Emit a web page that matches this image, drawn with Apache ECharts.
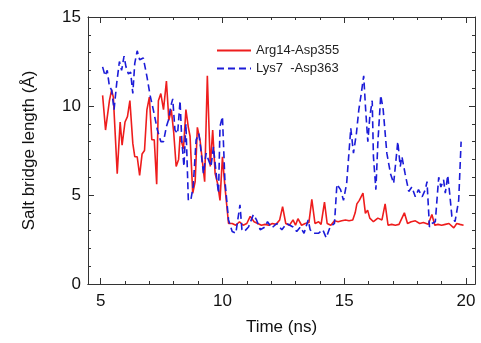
<!DOCTYPE html>
<html>
<head>
<meta charset="utf-8">
<script src="https://cdn.jsdelivr.net/npm/echarts@6/dist/echarts.min.js"></script>
<style>html,body{margin:0;padding:0;background:#fff}#c{width:481px;height:343px}</style>
</head>
<body>
<div id="c"></div>
<script>
var argTime = [5.08,5.2,5.36,5.45,5.52,5.68,5.8,5.88,6.0,6.1,6.2,6.32,6.4,6.5,6.6,6.7,6.8,6.9,7.0,7.1,7.2,7.3,7.37,7.47,7.58,7.7,7.8,7.9,8.0,8.1,8.2,8.26,8.4,8.5,8.6,8.67,8.78,8.88,8.97,9.08,9.2,9.27,9.38,9.5,9.6,9.7,9.8,9.9,10.0,10.1,10.25,10.4,10.55,10.7,10.85,11.0,11.14,11.3,11.45,11.6,11.75,11.9,12.05,12.2,12.35,12.47,12.6,12.75,12.9,13.0,13.1,13.25,13.4,13.55,13.67,13.8,13.95,14.05,14.19,14.3,14.45,14.6,14.75,14.9,15.05,15.2,15.35,15.45,15.52,15.62,15.77,15.87,15.96,16.05,16.2,16.38,16.55,16.68,16.8,16.95,17.1,17.25,17.47,17.6,17.75,17.92,18.1,18.25,18.45,18.6,18.72,18.85,19.0,19.15,19.3,19.5,19.62,19.75,19.9];
var argLen = [10.6,8.65,10.3,10.9,10.5,6.2,9.1,7.8,9.1,9.4,10.3,7.9,7.15,7.15,6.1,7.3,7.5,9.8,10.5,8.1,8.1,5.6,10.3,10.7,9.8,11.4,9.2,9.8,8.5,6.6,7.0,8.3,7.6,9.8,8.8,8.3,5.1,5.75,8.8,8.1,6.6,5.75,11.7,6.6,8.65,6.2,5.65,4.7,7.15,5.5,3.4,3.4,3.3,3.5,3.3,3.4,3.8,3.5,3.4,3.3,3.35,3.3,3.4,3.35,3.6,4.35,3.4,3.3,3.6,3.3,3.67,3.3,3.4,3.45,4.75,3.4,3.5,3.35,4.6,3.4,3.3,3.55,3.5,3.55,3.6,3.55,3.6,4.0,4.5,4.7,5.1,3.97,4.15,3.7,3.5,3.7,3.6,4.5,3.3,3.35,3.3,3.35,4.0,3.4,3.5,3.55,3.4,3.45,3.35,3.9,3.3,3.35,3.3,3.35,3.4,3.15,3.4,3.35,3.3];
var lysTime = [5.08,5.18,5.27,5.36,5.45,5.55,5.66,5.77,5.86,5.96,6.04,6.14,6.23,6.32,6.4,6.5,6.6,6.75,6.9,7.03,7.16,7.33,7.47,7.58,7.7,7.78,7.88,7.96,8.05,8.16,8.26,8.33,8.42,8.5,8.6,8.7,8.8,8.92,9.03,9.1,9.22,9.33,9.42,9.53,9.63,9.77,9.84,9.9,10.0,10.1,10.25,10.4,10.55,10.72,10.8,10.9,11.07,11.27,11.4,11.55,11.75,11.85,12.03,12.23,12.44,12.64,12.9,13.05,13.2,13.35,13.52,13.6,13.74,13.94,14.12,14.26,14.42,14.6,14.7,14.85,14.97,15.1,15.27,15.38,15.5,15.6,15.7,15.8,15.88,15.97,16.05,16.15,16.2,16.3,16.38,16.5,16.6,16.75,16.9,17.03,17.2,17.3,17.37,17.5,17.65,17.78,17.92,18.05,18.2,18.33,18.4,18.5,18.6,18.74,18.88,18.97,19.08,19.15,19.25,19.33,19.42,19.55,19.7,19.8];
var lysLen = [12.2,11.7,12.0,11.1,10.9,9.8,11.3,12.5,12.0,12.8,12.2,11.8,11.9,10.7,12.4,13.1,12.6,12.7,11.65,10.6,9.8,8.65,8.0,8.0,8.85,9.2,10.0,10.4,8.65,8.45,10.3,8.1,6.6,9.0,4.7,4.7,5.5,8.1,8.45,7.7,6.2,7.35,7.0,6.6,7.7,5.85,5.1,8.85,9.4,5.85,3.6,2.95,2.85,4.45,3.05,2.95,3.2,3.9,3.6,3.05,3.2,3.5,3.15,3.4,3.05,3.4,3.2,2.95,3.2,2.85,3.6,3.05,2.85,2.85,3.05,2.6,3.2,3.4,5.6,5.3,4.7,5.65,8.75,7.35,8.45,9.8,10.7,11.7,9.8,8.0,9.4,10.3,7.15,5.3,7.9,10.6,9.8,7.35,6.2,5.65,8.0,6.6,7.15,6.2,5.2,5.45,4.9,5.3,4.9,5.3,5.75,3.2,3.4,3.5,6.0,5.45,5.85,5.1,6.1,5.1,3.8,3.5,4.7,8.0];
var seriesNames = ['Arg14-Asp355','Lys7  -Asp363'];

function pairs(xs, ys){ return xs.map(function(x,i){return [x, ys[i]];}); }
var FONT = 'Liberation Sans';
var AX = '#333';
var chart = echarts.init(document.getElementById('c'));

function setRange(o, dim){
  if (dim === 'x') { o.min = 4.48; o.max = 20.37; o.splitNumber = 3; }
  else { o.min = 0; o.max = 15; o.interval = 5; }
  return o;
}
// Axis that carries labels and title (no ticks)
function labelAx(dim){
  var o = {
    type:'value', position: dim === 'x' ? 'bottom' : 'left',
    axisLine:{show:true, onZero:false, lineStyle:{color:AX, width:1}},
    axisTick:{show:false}, minorTick:{show:false},
    axisLabel:{show:true, color:'#111', fontSize:17, fontFamily:FONT, margin: dim === 'x' ? 9 : 7},
    splitLine:{show:false},
    name: dim === 'x' ? 'Time (ns)' : 'Salt bridge length (Å)',
    nameLocation:'middle', nameGap: dim === 'x' ? 35 : 50,
    nameTextStyle:{fontSize:17, fontFamily:FONT, color:'#111'}
  };
  if (dim === 'x') { o.axisLabel.showMinLabel = false; o.axisLabel.showMaxLabel = false; }
  return setRange(o, dim);
}
// Plain axis that only draws the inward ticks of the frame
function tickAx(dim, pos){
  var o = {
    type:'value', position:pos,
    axisLine:{show:true, onZero:false, lineStyle:{color:AX, width:1}},
    axisTick:{show:true, inside:true, length:6, lineStyle:{color:AX, width:1}},
    minorTick:{show:true, splitNumber:5, length:3, lineStyle:{color:AX, width:1}},
    axisLabel:{show:false},
    splitLine:{show:false}
  };
  return setRange(o, dim);
}
chart.setOption({
  animation:false,
  grid:{left:88, right:6, top:17, bottom:59},
  legend:{
    orient:'vertical', left:211, top:39, itemWidth:34, itemHeight:10, itemGap:5,
    itemStyle:{opacity:0},
    textStyle:{fontSize:13, fontFamily:FONT, color:'#222'},
    data:seriesNames
  },
  xAxis:[labelAx('x'), tickAx('x','bottom'), tickAx('x','top')],
  yAxis:[labelAx('y'), tickAx('y','left'), tickAx('y','right')],
  series:[
    {name:seriesNames[0], type:'line', xAxisIndex:0, yAxisIndex:0, symbol:'none', showSymbol:false,
     data:pairs(argTime, argLen), lineStyle:{color:'#ee1d1d', width:1.6}, itemStyle:{color:'#ee1d1d'}},
    {name:seriesNames[1], type:'line', xAxisIndex:0, yAxisIndex:0, symbol:'none', showSymbol:false,
     data:pairs(lysTime, lysLen), lineStyle:{color:'#1c1cd8', width:1.6, type:[7,4]}, itemStyle:{color:'#1c1cd8'}}
  ]
});
</script>
</body>
</html>
